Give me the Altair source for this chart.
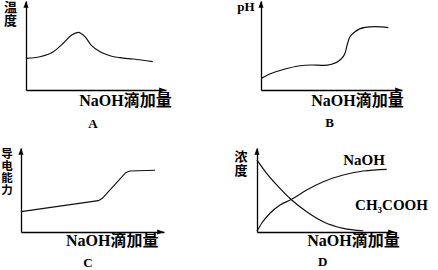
import altair as alt
import pandas as pd

# ---------------- data (arbitrary 0-10 units) ----------------
# Panel A: temperature vs NaOH added
a_x = [0, 1.0, 1.95, 2.66, 3.26, 3.74, 4.21, 4.69, 5.29, 6.0, 6.71, 7.66, 9.05]
a_y = [3.56, 3.74, 4.30, 5.25, 6.18, 6.48, 5.99, 4.98, 4.30, 3.85, 3.63, 3.48, 3.18]

# Panel B: pH vs NaOH added
b_x = [0, 0.76, 1.70, 2.65, 3.60, 4.42, 5.01, 5.60, 5.96, 6.08, 6.26, 6.67, 7.38, 8.09, 9.03]
b_y = [1.31, 1.88, 2.36, 2.70, 2.81, 2.76, 2.89, 3.37, 4.12, 4.87, 5.81, 6.55, 7.04, 7.11, 7.00]

# Panel C: conductivity vs NaOH added
c_x = [0, 5.41, 5.69, 7.32, 7.62, 9.37]
c_y = [2.42, 3.73, 4.01, 7.06, 7.26, 7.35]

# Panel D: concentrations vs NaOH added
d_acid_x = [0, 0.70, 1.43, 2.51, 3.60, 4.80, 6.25, 7.70]
d_acid_y = [8.57, 6.99, 5.60, 3.81, 2.42, 1.23, 0.44, 0.15]
d_base_x = [0, 0.34, 0.94, 1.67, 2.51, 3.60, 4.80, 6.25, 7.70, 9.40]
d_base_y = [0.10, 1.04, 2.23, 3.21, 3.89, 5.00, 5.99, 6.79, 7.26, 7.46]

series_names = ["NaOH", "CH₃COOH"]
panel_letters = ["A", "B", "C", "D"]
x_title = "NaOH滴加量"
y_titles = [["温", "度"], ["pH"], ["导", "电", "能", "力"], ["浓", "度"]]

# ---------------- styling ----------------
FONT = "Liberation Serif, Noto Sans CJK SC"
DOMAIN = [0, 10]
ARROW_RIGHT = "M0,0L-1.2,-0.45L-1.2,0.45Z"
ARROW_UP = "M0,0L-0.45,1.2L0.45,1.2Z"


def panel(df, w, h, ytitle, ytx, yty, ylh, ysize, xtx, xty, letter, lx, ly,
          interp, detail=False, labels=None):
    xs = alt.Scale(domain=DOMAIN, nice=False, zero=False)
    ys = alt.Scale(domain=DOMAIN, nice=False, zero=False)
    xaxis = alt.Axis(title=x_title, domain=True, domainColor="black", domainWidth=1.3,
                     ticks=False, labels=False, grid=False,
                     titleX=xtx, titleY=xty, titleAlign="center", titleBaseline="alphabetic",
                     titleFont=FONT, titleFontSize=16, titleFontWeight="bold", titleColor="black")
    yaxis = alt.Axis(title=ytitle, domain=True, domainColor="black", domainWidth=1.3,
                     ticks=False, labels=False, grid=False, titleAngle=0,
                     titleX=ytx, titleY=yty, titleAlign="center", titleBaseline="alphabetic",
                     titleLineHeight=ylh,
                     titleFont=FONT, titleFontSize=ysize, titleFontWeight="bold",
                     titleColor="black")
    enc = dict(x=alt.X("x:Q", scale=xs, axis=xaxis), y=alt.Y("y:Q", scale=ys, axis=yaxis))
    if detail:
        enc["detail"] = alt.Detail("series:N")
    line = alt.Chart(df).mark_line(color="#111", strokeWidth=1.2, interpolate=interp).encode(**enc)

    arrow_df_r = pd.DataFrame({"x": [DOMAIN[1]], "y": [DOMAIN[0]]})
    arrow_df_u = pd.DataFrame({"x": [DOMAIN[0]], "y": [DOMAIN[1]]})
    ar = alt.Chart(arrow_df_r).mark_point(shape=ARROW_RIGHT, filled=True, size=130,
                                          color="black", opacity=1, strokeWidth=0).encode(
        x=alt.X("x:Q", scale=xs), y=alt.Y("y:Q", scale=ys))
    au = alt.Chart(arrow_df_u).mark_point(shape=ARROW_UP, filled=True, size=130,
                                          color="black", opacity=1, strokeWidth=0).encode(
        x=alt.X("x:Q", scale=xs), y=alt.Y("y:Q", scale=ys))
    let = alt.Chart(pd.DataFrame({"t": [letter]})).mark_text(
        font=FONT, fontSize=13, fontWeight="bold", align="center", baseline="alphabetic",
        color="black").encode(text="t:N", x=alt.value(lx), y=alt.value(ly))
    layers = [line, ar, au, let]
    if labels:
        for name, px, py in labels:
            layers.append(alt.Chart(pd.DataFrame({"t": [name]})).mark_text(
                font=FONT, fontSize=15, fontWeight="bold", align="center",
                baseline="alphabetic", color="black").encode(
                text="t:N", x=alt.value(px), y=alt.value(py)))
    return alt.layer(*layers).properties(width=w, height=h)


df_a = pd.DataFrame({"x": a_x, "y": a_y})
df_b = pd.DataFrame({"x": b_x, "y": b_y})
df_c = pd.DataFrame({"x": c_x, "y": c_y})
df_d = pd.concat([
    pd.DataFrame({"x": d_base_x, "y": d_base_y, "series": series_names[0]}),
    pd.DataFrame({"x": d_acid_x, "y": d_acid_y, "series": series_names[1]}),
])

pA = panel(df_a, 140, 89, y_titles[0], -16, 10, 13.5, 13, 99, 15,
           panel_letters[0], 67, 127, "monotone")
pB = panel(df_b, 141, 89, y_titles[1], -15.5, 9.5, 12.5, 13, 96, 15,
           panel_letters[1], 68.5, 126, "monotone")
pC = panel(df_c, 143, 84, y_titles[2], -14.5, 9, 12, 11.5, 90.7, 13,
           panel_letters[2], 67, 119, "linear")
pD = panel(df_d, 138, 84, y_titles[3], -16.5, 12.5, 13.5, 13, 96, 13,
           panel_letters[3], 65.7, 117.5, "monotone", detail=True,
           labels=[(series_names[0], 107, 17), (series_names[1], 134.5, 62)])

spacer = alt.Chart(pd.DataFrame({"v": []})).mark_point().properties(width=5, height=89)

row1 = alt.hconcat(spacer, alt.hconcat(pA, pB, spacing=95, bounds="flush"),
                   spacing=0, bounds="flush")
row2 = alt.hconcat(pC, pD, spacing=93, bounds="flush")

# nested flush groups report no height, so the row gap is measured from the top
chart = alt.vconcat(row1, row2, spacing=147, bounds="flush").properties(
    padding={"left": 21, "top": 1, "right": 417, "bottom": 269},
    autosize=alt.AutoSizeParams(type="none"),
).configure_view(stroke=None)

chart.save("out.html", embed_options={"renderer": "svg", "actions": False})
